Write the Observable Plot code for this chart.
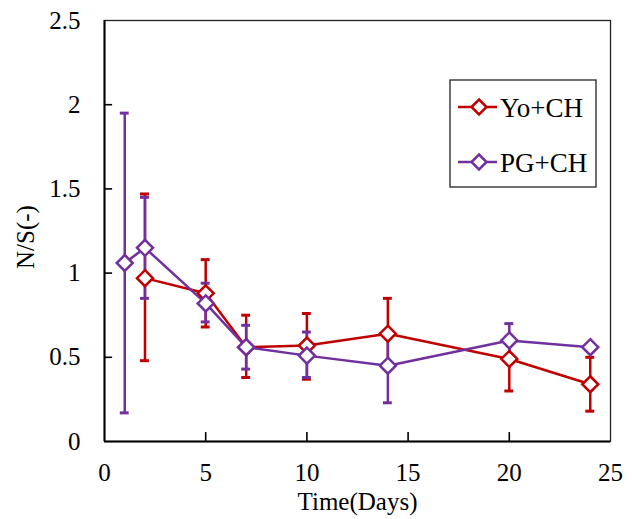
<!DOCTYPE html>
<html>
<head>
<meta charset="utf-8">
<script src="https://cdn.jsdelivr.net/npm/d3@7"></script>
<script src="https://cdn.jsdelivr.net/npm/@observablehq/plot@0.6"></script>
<style>
  html, body { margin: 0; padding: 0; background: white; }
</style>
</head>
<body>
<div id="chart"></div>
<script>
// ---- data ----
const seriesNames = ["Yo+CH", "PG+CH"];
const seriesColors = ["#c00000", "#7030a0"];

const yoDays = [2, 5, 7, 10, 14, 20, 24];
const yoMean = [0.97, 0.88, 0.56, 0.57, 0.64, 0.49, 0.34];
const yoHi   = [1.47, 1.08, 0.75, 0.76, 0.85, 0.62, 0.50];
const yoLo   = [0.48, 0.68, 0.38, 0.37, 0.43, 0.30, 0.18];

const pgDays = [1, 2, 5, 7, 10, 14, 20, 24];
const pgMean = [1.06, 1.15, 0.82, 0.56, 0.51, 0.45, 0.60, 0.56];
const pgHi   = [1.95, 1.45, 0.94, 0.69, 0.65, 0.64, 0.70, 0.56];
const pgLo   = [0.17, 0.85, 0.71, 0.43, 0.38, 0.23, 0.50, 0.56];

const xTicks = [0, 5, 10, 15, 20, 25];
const yTicks = [0, 0.5, 1, 1.5, 2, 2.5];
const yTickLabels = ["0", "0.5", "1", "1.5", "2", "2.5"];

const xTitle = "Time(Days)";
const yTitle = "N/S(-)";

// ---- build tables ----
function table(days, mean, hi, lo, s) {
  return days.map((d, i) => ({day: d, v: mean[i], hi: hi[i], lo: lo[i], s}));
}
const yo = table(yoDays, yoMean, yoHi, yoLo, seriesNames[0]);
const pg = table(pgDays, pgMean, pgHi, pgLo, seriesNames[1]);

const capHalf = 0.22;   // half width of error-bar caps (x units)
const innerX = xTicks.slice(1, -1);
const innerY = yTicks.slice(1, -1);

function errMarks(data, color) {
  const withErr = data.filter(d => d.hi !== d.lo);
  return [
    Plot.ruleX(withErr, {x: "day", y1: "lo", y2: "hi", stroke: color, strokeWidth: 2.5}),
    Plot.ruleY(withErr, {y: "hi", x1: d => d.day - capHalf, x2: d => d.day + capHalf, stroke: color, strokeWidth: 3}),
    Plot.ruleY(withErr, {y: "lo", x1: d => d.day - capHalf, x2: d => d.day + capHalf, stroke: color, strokeWidth: 3})
  ];
}

const font = "'Liberation Serif', 'Times New Roman', serif";

const chart = Plot.plot({
  width: 632,
  height: 519,
  marginLeft: 104,
  marginRight: 22,
  marginTop: 20,
  marginBottom: 78,
  style: {fontFamily: font, fontSize: "25px", background: "white", color: "black"},
  x: {domain: [0, 25], ticks: xTicks},
  y: {domain: [0, 2.5], ticks: yTicks},
  marks: [
    Plot.frame({stroke: "#222", strokeWidth: 1.3}),
    Plot.axisX({ticks: xTicks, tickSize: 0, tickPadding: 22, label: null, fontSize: 25, tickFormat: d => String(d)}),
    Plot.axisY({ticks: yTicks, tickSize: 0, tickPadding: 24, label: null, fontSize: 25,
                tickFormat: d => yTickLabels[yTicks.indexOf(d)]}),
    // inner tick marks
    Plot.ruleX(innerX, {x: d => d, y1: 0, y2: 0.053, stroke: "black", strokeWidth: 1.6}),
    Plot.ruleY(innerY, {y: d => d, x1: 0, x2: 0.4, stroke: "black", strokeWidth: 1.6}),
    // axis lines
    Plot.ruleX([0], {stroke: "black", strokeWidth: 2}),
    Plot.ruleY([0], {stroke: "black", strokeWidth: 2}),
    // error bars
    ...errMarks(yo, seriesColors[0]),
    ...errMarks(pg, seriesColors[1]),
    // lines
    Plot.line(yo, {x: "day", y: "v", stroke: seriesColors[0], strokeWidth: 2.5}),
    Plot.line(pg, {x: "day", y: "v", stroke: seriesColors[1], strokeWidth: 2.5}),
    // markers
    Plot.dot(yo, {x: "day", y: "v", symbol: "diamond2", r: 7.2, fill: "white", stroke: seriesColors[0], strokeWidth: 2.5}),
    Plot.dot(pg, {x: "day", y: "v", symbol: "diamond2", r: 7.2, fill: "white", stroke: seriesColors[1], strokeWidth: 2.5}),
    // titles
    Plot.text([xTitle], {frameAnchor: "bottom", dy: 60, lineAnchor: "middle", textAnchor: "middle", fontSize: 25, fill: "black"}),
    Plot.text([yTitle], {frameAnchor: "left", dx: -79, dy: 6, rotate: -90, lineAnchor: "middle", textAnchor: "middle", fontSize: 25, fill: "black"})
  ]
});

document.getElementById("chart").appendChild(chart);

// ---- legend inside the plot area ----
const svg = d3.select(chart);
const lg = svg.append("g").attr("transform", "translate(450,80)");
lg.append("rect").attr("width", 146).attr("height", 107)
  .attr("fill", "white").attr("stroke", "#222").attr("stroke-width", 1.3);
seriesNames.forEach((name, i) => {
  const cy = 27 + i * 55;
  const g = lg.append("g").attr("transform", `translate(0,${cy})`);
  g.append("line").attr("x1", 8).attr("x2", 47).attr("y1", 0).attr("y2", 0)
    .attr("stroke", seriesColors[i]).attr("stroke-width", 2.5);
  g.append("path").attr("d", "M29,-7.5L36.5,0L29,7.5L21.5,0Z")
    .attr("fill", "white").attr("stroke", seriesColors[i]).attr("stroke-width", 2.5);
  g.append("text").attr("x", 50).attr("y", 0).attr("dy", "0.36em")
    .attr("text-anchor", "start")
    .attr("font-family", font).attr("font-size", 27).attr("fill", "black").text(name);
});
</script>
</body>
</html>
